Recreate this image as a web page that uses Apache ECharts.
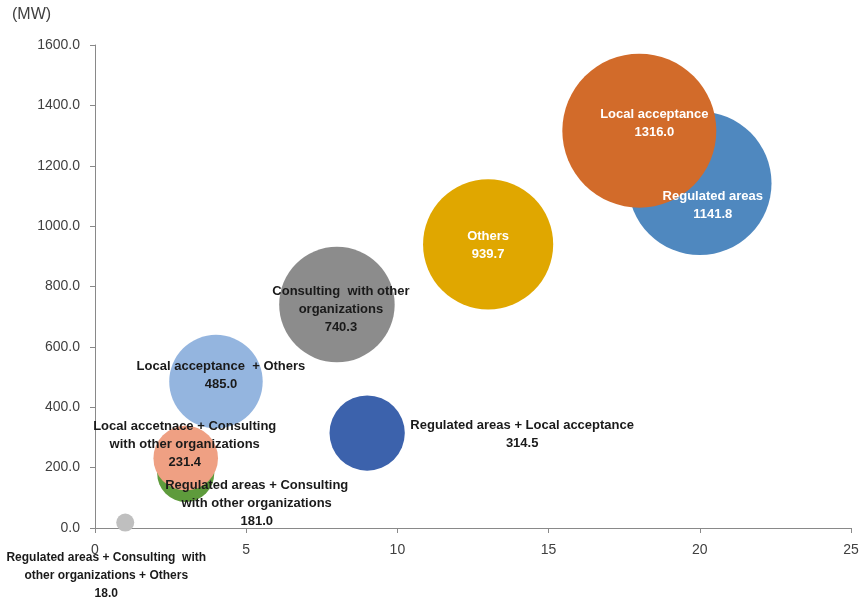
<!DOCTYPE html>
<html>
<head>
<meta charset="utf-8">
<script src="https://cdn.jsdelivr.net/npm/echarts@6/dist/echarts.min.js"></script>
<style>
html,body{margin:0;padding:0;background:#fff;}
#chart{width:864px;height:605px;}
</style>
</head>
<body>
<div id="chart"></div>
<script>
// Data (drawing order: back to front)
var names = [
  'Regulated areas + Consulting  with\nother organizations + Others',
  'Regulated areas + Consulting\nwith other organizations',
  'Local accetnace + Consulting\nwith other organizations',
  'Local acceptance  + Others',
  'Regulated areas + Local acceptance',
  'Consulting  with other\norganizations',
  'Others',
  'Regulated areas',
  'Local acceptance'
];
var xValues = [1, 3, 3, 4, 9, 8, 13, 20, 18];
var yValues = [18.0, 181.0, 231.4, 485.0, 314.5, 740.3, 939.7, 1141.8, 1316.0];
var bubbleSizes = [18.0, 181.0, 231.4, 485.0, 314.5, 740.3, 939.7, 1141.8, 1316.0];
var xTicks = [0, 5, 10, 15, 20, 25];
var yTicks = [0, 200, 400, 600, 800, 1000, 1200, 1400, 1600];

// Styles
var colors = ['#BFBFBF', '#5E9B3C', '#EFA083', '#94B5DF', '#3C62AC', '#8C8C8C', '#E0A700', '#4F88BF', '#D26B2A'];
var labelColors = ['#1a1a1a', '#1a1a1a', '#1a1a1a', '#1a1a1a', '#1a1a1a', '#1a1a1a', '#ffffff', '#ffffff', '#ffffff'];
var labelOffsets = [[-19, 53], [71, 30], [-1, -14], [5, -6], [155, 1], [4, 5], [0, 1], [13, 22], [15, -7]];
var labelSizes = [12, 13, 13, 13, 13, 13, 13, 13, 13];
var sizeScale = 2 * 77 / Math.sqrt(1316);

var series = names.map(function (n, i) {
  return {
    type: 'scatter',
    name: n,
    data: [[xValues[i], yValues[i], bubbleSizes[i]]],
    symbolSize: function (d) { return sizeScale * Math.sqrt(d[2]); },
    itemStyle: { color: colors[i], opacity: 1 },
    label: {
      show: true,
      position: 'inside',
      offset: labelOffsets[i],
      formatter: function () { return n + '\n' + yValues[i].toFixed(1); },
      color: labelColors[i],
      fontFamily: 'Liberation Sans, Arial, sans-serif',
      fontWeight: 'bold',
      fontSize: labelSizes[i],
      lineHeight: 18,
      align: 'center'
    },
    silent: true,
    animation: false
  };
});

var chart = echarts.init(document.getElementById('chart'), null, { renderer: 'canvas' });
chart.setOption({
  backgroundColor: '#ffffff',
  animation: false,
  title: {
    text: '(MW)',
    left: 7,
    top: 2,
    textStyle: { fontFamily: 'Liberation Sans, Arial, sans-serif', fontSize: 16, fontWeight: 'normal', color: '#404040' }
  },
  grid: { left: 95, right: 13, top: 45, bottom: 77, containLabel: false },
  xAxis: {
    type: 'value',
    min: xTicks[0],
    max: xTicks[xTicks.length - 1],
    interval: 5,
    splitLine: { show: false },
    axisLine: { show: true, onZero: false, lineStyle: { color: '#898989', width: 1 } },
    axisTick: { show: true, length: 5, lineStyle: { color: '#898989' } },
    axisLabel: { fontFamily: 'Liberation Sans, Arial, sans-serif', fontSize: 14, color: '#404040', margin: 15 }
  },
  yAxis: {
    type: 'value',
    min: yTicks[0],
    max: yTicks[yTicks.length - 1],
    interval: 200,
    splitLine: { show: false },
    axisLine: { show: true, onZero: false, lineStyle: { color: '#898989', width: 1 } },
    axisTick: { show: true, length: 5, lineStyle: { color: '#898989' } },
    axisLabel: {
      fontFamily: 'Liberation Sans, Arial, sans-serif', fontSize: 14, color: '#404040', margin: 15,
      formatter: function (v) { return v.toFixed(1); }
    }
  },
  series: series
});
</script>
</body>
</html>
